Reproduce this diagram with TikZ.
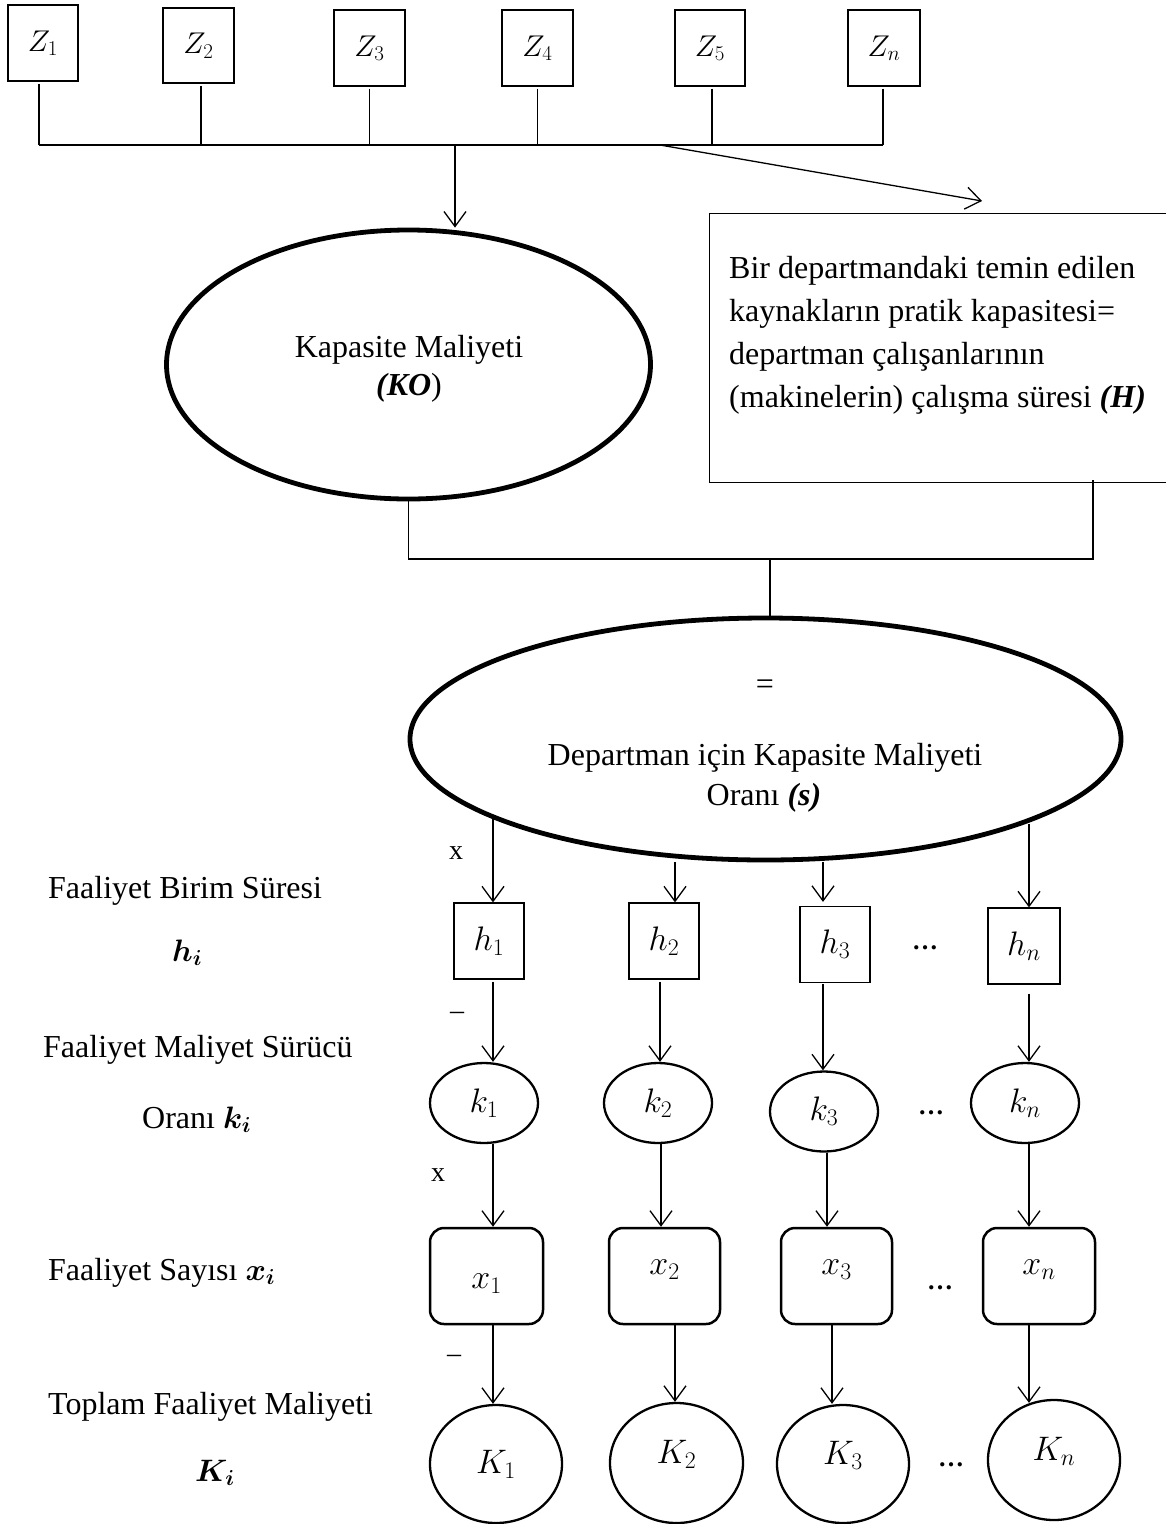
\RequirePackage{fix-cm}
\documentclass[tikz,border=0pt]{standalone}
\usepackage[no-math]{fontspec}
\setmainfont{Liberation Serif}
\usepackage{bm}
\usetikzlibrary{shapes.geometric,arrows.meta,calc}

\begin{document}
\begin{tikzpicture}[x=1pt,y=-1pt,
  txt/.style={inner sep=0pt, font=\fontsize{32}{38}\selectfont},
  sym/.style={inner sep=0pt, font=\fontsize{28}{32}\selectfont},
  wire/.style={line width=1.3pt},
  arr/.style={line width=1.3pt, -{Straight Barb[length=15pt,width=22pt]}},
  zbox/.style={draw, line width=1.2pt, minimum width=71pt, minimum height=76pt, inner sep=0pt, font=\fontsize{30}{34}\selectfont},
  hbox/.style={draw, line width=1.2pt, minimum width=70pt, minimum height=76pt, inner sep=0pt, font=\fontsize{34}{38}\selectfont},
  kell/.style={draw, ellipse, line width=2.3pt, minimum width=108pt, minimum height=80pt, inner sep=0pt, font=\fontsize{34}{38}\selectfont},
  xbox/.style={draw, rounded corners=14pt, line width=2.5pt, minimum width=112pt, minimum height=96pt, inner sep=0pt, font=\fontsize{34}{38}\selectfont},
  Kcirc/.style={draw, ellipse, line width=2.3pt, minimum width=132pt, minimum height=118pt, inner sep=0pt, font=\fontsize{34}{38}\selectfont},
  bigell/.style={draw, ellipse, line width=4.8pt, inner sep=0pt},
  ellip/.style={inner sep=0pt, font=\bfseries\fontsize{26}{30}\selectfont},
  bmath/.style={inner sep=0pt, font=\fontsize{31}{34}\selectfont},
]
\useasboundingbox (0,0) rectangle (1166,1524);
\clip (0,0) rectangle (1166,1524);

% ---- resource boxes Z_j and their collecting bus ----
\node[zbox, minimum width=70pt] (Z1) at (43,43) {$Z_1$};
\node[zbox, minimum height=75pt] (Z2) at (198.5,45.5) {$Z_2$};
\node[zbox] (Z3) at (369.5,48) {$Z_3$};
\node[zbox] (Z4) at (537.5,48) {$Z_4$};
\node[zbox, minimum width=70pt] (Z5) at (710,48) {$Z_5$};
\node[zbox, minimum width=72pt] (Zn) at (884,48) {$Z_n$};

\coordinate (zbus) at (0,145);
\foreach \z/\dx in {Z1/-4,Z2/2.5,Z3/0,Z4/0,Z5/2,Zn/-1}
  \draw[wire] ($(\z.south)+(\dx,2)$) -- ($(\z.south |- zbus)+(\dx,0)$);
\draw[wire] ($(Z1.south |- zbus)+(-4,0)$) -- ($(Zn.south |- zbus)+(-1,0)$);

% ---- capacity cost ellipse ----
\node[bigell, minimum width=484pt, minimum height=269pt] (KO) at (408.5,364.5) {};
\node[txt, anchor=base] (KOa) at (409,357) {Kapasite Maliyeti};
\node[txt, anchor=base] (KOb) at (409,395) {{\bfseries\itshape (KO})};

\coordinate (koA) at (455,145);
\draw[arr] (koA) -- (koA |- KO.north);

% ---- practical capacity box (runs off the right edge) ----
\node[draw, line width=1.2pt, anchor=north west, minimum width=520pt, minimum height=269pt, inner sep=0pt] (H) at (709,213) {};
\node[txt, anchor=base west] (Ha) at (729,278) {Bir departmandaki temin edilen};
\node[txt, anchor=base west] (Hb) at (729,321.5) {kaynakların pratik kapasitesi=};
\node[txt, anchor=base west] (Hc) at (729,364) {departman çalışanlarının};
\node[txt, anchor=base west] (Hd) at (729,407) {(makinelerin) çalışma süresi \textbf{\textit{(H)}}};

\coordinate (dA) at (660,145);
\coordinate (dB) at (982,201);
\draw[arr] (dA) -- (dB);

% ---- rate ellipse ----
\node[bigell, minimum width=711pt, minimum height=242pt] (s) at (765.5,739) {};
\node[txt, anchor=center] (eq) at (765,687) {=};
\node[txt, anchor=base] (sa) at (765,765) {Departman için Kapasite Maliyeti};
\node[txt, anchor=base] (sb) at (764,805) {Oranı \textbf{\textit{(s)}}};

% junction of KO and H into the rate
\coordinate (jR) at (1093,559);
\coordinate (jM) at (770,559);
\draw[wire] (KO.south) |- (jR) -- ($(jR |- H.south)+(0,-3)$);
\draw[wire] (jM) -- (jM |- s.north);

% ---- row labels ----
\node[txt, anchor=base west] (L1) at (48,898) {Faaliyet Birim Süresi};
\node[bmath, anchor=base west] (L1b) at (172,961) {$\bm{h_i}$};
\node[txt, anchor=base west] (L2) at (43,1057) {Faaliyet Maliyet Sürücü};
\node[txt, anchor=base west] (L2b) at (142,1128) {Oranı {\fontsize{31}{34}\selectfont$\bm{k_i}$}};
\node[txt, anchor=base west] (L3) at (48,1280) {Faaliyet Sayısı {\fontsize{31}{34}\selectfont$\bm{x_i}$}};
\node[txt, anchor=base west] (L4) at (48,1414) {Toplam Faaliyet Maliyeti};
\node[bmath, anchor=base west] (L4b) at (195,1481) {$\bm{K_i}$};

% operator marks
\node[sym] (op1) at (456,853) {x};
\node[sym] (op2) at (457,1016) {--};
\node[sym] (op3) at (438,1175) {x};
\node[sym] (op4) at (454,1359) {--};

% ---- activity columns ----
\node[hbox] (h1) at (489,941) {$h_1$};
\node[hbox] (h2) at (664,941) {$h_2$};
\node[hbox] (h3) at (835,944.5) {$h_3$};
\node[hbox, minimum width=72pt] (hn) at (1024,946) {$h_n$};
\node[ellip] (d1) at (925,948) {…};

\node[kell] (k1) at (484,1103) {$k_1$};
\node[kell] (k2) at (658,1103) {$k_2$};
\node[kell] (k3) at (824,1111.5) {$k_3$};
\node[kell] (kn) at (1025,1103) {$k_n$};
\node[ellip] (d2) at (931,1113) {…};

\node[xbox, minimum width=113pt] (x1) at (486.5,1276) {\raisebox{-12pt}[0pt][0pt]{$x_1$}};
\node[xbox, minimum width=111pt] (x2) at (664.5,1276) {\raisebox{2pt}[0pt][0pt]{$x_2$}};
\node[xbox, minimum width=111pt] (x3) at (836.5,1276) {\raisebox{2pt}[0pt][0pt]{$x_3$}};
\node[xbox] (xn) at (1039,1276) {\raisebox{2pt}[0pt][0pt]{$x_n$}};
\node[ellip] (d3) at (940,1288) {…};

\node[Kcirc] (K1) at (496,1464) {$K_1$};
\node[Kcirc, minimum width=133pt, minimum height=120pt] (K2) at (676.5,1463) {\raisebox{0pt}[0pt][0pt]{$K_2$}};
\node[Kcirc] (K3) at (843,1464) {\raisebox{0pt}[0pt][0pt]{$K_3$}};
\node[Kcirc, minimum height=120pt] (Kn) at (1054,1460) {\raisebox{0pt}[0pt][0pt]{$K_n$}};
\node[ellip] (d4) at (951,1465) {…};

% rate -> unit times
\draw[arr] ($(h1.north |- s.196)+(4,0)$) -- ($(h1.north)+(4,0)$);
\draw[arr] ($(h2.north |- s.south)+(11,0)$) -- ($(h2.north)+(11,0)$);
\draw[arr] ($(h3.north |- s.south)+(-12,0)$) -- ($(h3.north)+(-12,-4)$);
\draw[arr] ($(hn.north |- s.342)+(5,0)$) -- ($(hn.north)+(5,0)$);

% unit times -> cost driver rates
\draw[arr] ($(h1.south)+(4,2)$) -- ($(h1.south |- k1.north)+(4,0)$);
\draw[arr] ($(h2.south)+(-4,2)$) -- ($(h2.south |- k2.north)+(-4,0)$);
\draw[arr] ($(h3.south)+(-12,1)$) -- ($(h3.south |- k3.north)+(-12,0)$);
\draw[arr] ($(hn.south)+(5,9)$) -- ($(hn.south |- kn.north)+(5,0)$);

% cost driver rates -> activity counts
\draw[arr] ($(k1.south)+(9,0)$) -- ($(k1.south |- x1.north)+(9,0)$);
\draw[arr] ($(k2.south)+(3,0)$) -- ($(k2.south |- x2.north)+(3,0)$);
\draw[arr] ($(k3.south)+(3,0)$) -- ($(k3.south |- x3.north)+(3,0)$);
\draw[arr] ($(kn.south)+(4,0)$) -- ($(kn.south |- xn.north)+(4,0)$);

% activity counts -> total activity costs
\draw[arr] ($(x1.south)+(6.5,0)$) -- ($(x1.south |- K1.north)+(6.5,0)$);
\draw[arr] ($(x2.south)+(10.5,0)$) -- ($(x2.south |- K2.north)+(10.5,0)$);
\draw[arr] ($(x3.south)+(-4.5,0)$) -- ($(x3.south |- K3.north)+(-4.5,0)$);
\draw[arr] ($(xn.south)+(-10,0)$) -- ($(xn.south |- Kn.north)+(-10,4)$);
\end{tikzpicture}
\end{document}
